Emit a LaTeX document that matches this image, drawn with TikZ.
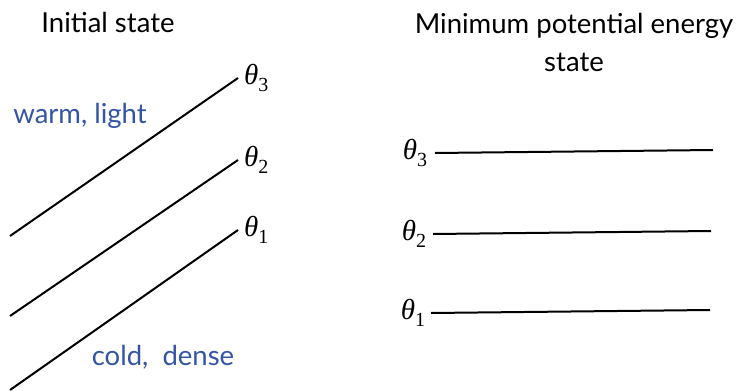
\documentclass[tikz,border=0pt]{standalone}
\usepackage{fontspec}
\setsansfont{Lato}
\newfontfamily\grk{Liberation Serif}
\usetikzlibrary{positioning}
\definecolor{note}{RGB}{52,84,164}
\newcommand{\thlab}[1]{{\itshape θ}\raisebox{-0.26em}{\fontsize{20}{20}\selectfont #1}}

\begin{document}
\begin{tikzpicture}[
  x=1pt, y=-1pt,
  title/.style={font=\sffamily\fontsize{27.5}{38}\selectfont, align=center, inner sep=0pt},
  thlbl/.style={font=\grk\fontsize{29}{32}\selectfont, inner sep=0pt},
  hint/.style={font=\sffamily\fontsize{27.5}{30}\selectfont, text=note, inner sep=0pt},
  layer/.style={line width=2pt, black}
]
\useasboundingbox (0,0) rectangle (742,391);
% headings
\node[title] (init) at (108,22) {Initial state};
\node[title] (minpe) at (574,42) {Minimum potential energy\\state};
% tilted layers, initial state
\coordinate (a1) at (10,390);  \coordinate (b1) at (238,230);
\coordinate (a2) at (10,316);  \coordinate (b2) at (238,160);
\coordinate (a3) at (10,236);  \coordinate (b3) at (238,78);
\node[thlbl, right=6pt of b1] (l1) {\thlab{1}};
\node[thlbl, right=6pt of b2] (l2) {\thlab{2}};
\node[thlbl, right=6pt of b3] (l3) {\thlab{3}};
\draw[layer] (a1) -- (b1);
\draw[layer] (a2) -- (b2);
\draw[layer] (a3) -- (b3);
\node[hint] (warm) at (80,116) {warm, light};
\node[hint] (cold) at (163,357) {cold,\ \ dense};
% flat layers, minimum potential energy
\node[thlbl] (r1) at (413,313) {\thlab{1}};
\node[thlbl] (r2) at (414,234) {\thlab{2}};
\node[thlbl] (r3) at (415,153) {\thlab{3}};
\coordinate (e1) at (710,310);
\coordinate (e2) at (711,231);
\coordinate (e3) at (713,150);
\draw[layer] (431,313) -- (e1);
\draw[layer] (433,234) -- (e2);
\draw[layer] (435,153) -- (e3);
\end{tikzpicture}
\end{document}
